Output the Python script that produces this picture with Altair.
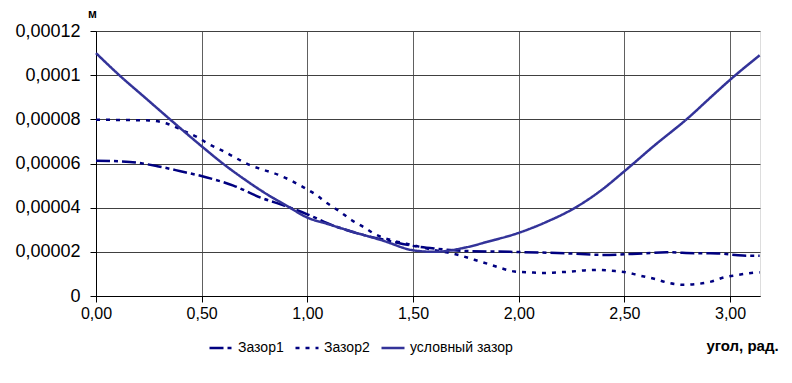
import altair as alt
import pandas as pd

# --- data ---
SERIES = ["Зазор1", "Зазор2", "условный зазор"]

x_z1 = [0.00, 0.16, 0.29, 0.40, 0.52, 0.65, 0.78, 0.89, 1.00, 1.12, 1.25, 1.37,
        1.50, 1.60, 1.75, 1.96, 2.23, 2.40, 2.59, 2.70, 2.83, 2.94, 3.06, 3.14]
y_z1 = [6.13e-5, 6.07e-5, 5.88e-5, 5.65e-5, 5.38e-5, 5.00e-5, 4.45e-5, 4.10e-5,
        3.70e-5, 3.20e-5, 2.80e-5, 2.53e-5, 2.27e-5, 2.15e-5, 2.04e-5, 2.00e-5,
        1.93e-5, 1.86e-5, 1.93e-5, 1.98e-5, 1.94e-5, 1.93e-5, 1.83e-5, 1.82e-5]

x_z2 = [0.00, 0.25, 0.34, 0.41, 0.48, 0.53, 0.60, 0.66, 0.72, 0.79, 0.86, 0.92,
        0.98, 1.04, 1.09, 1.15, 1.21, 1.27, 1.32, 1.41, 1.50, 1.58, 1.645, 1.715,
        1.79, 1.86, 1.92, 1.98, 2.05, 2.12, 2.18, 2.24, 2.31, 2.38, 2.44, 2.51,
        2.575, 2.645, 2.71, 2.78, 2.84, 2.91, 2.97, 3.035, 3.10, 3.14]
y_z2 = [7.98e-5, 7.95e-5, 7.79e-5, 7.50e-5, 7.19e-5, 6.90e-5, 6.57e-5, 6.26e-5,
        5.96e-5, 5.72e-5, 5.50e-5, 5.24e-5, 4.93e-5, 4.59e-5, 4.23e-5, 3.85e-5,
        3.43e-5, 3.10e-5, 2.80e-5, 2.50e-5, 2.30e-5, 2.12e-5, 2.00e-5, 1.86e-5,
        1.64e-5, 1.44e-5, 1.25e-5, 1.11e-5, 1.07e-5, 1.04e-5, 1.07e-5, 1.10e-5,
        1.16e-5, 1.18e-5, 1.14e-5, 1.07e-5, 0.92e-5, 0.77e-5, 0.59e-5, 0.51e-5,
        0.54e-5, 0.65e-5, 0.84e-5, 0.95e-5, 1.04e-5, 1.07e-5]

x_uz = [0.00, 0.11, 0.23, 0.35, 0.50, 0.60, 0.70, 0.81, 0.90, 1.00, 1.10, 1.20,
        1.36, 1.50, 1.60, 1.75, 1.85, 2.00, 2.13, 2.26, 2.385, 2.50, 2.64, 2.80,
        2.92, 3.00, 3.14]
y_uz = [11.0e-5, 10.0e-5, 9.0e-5, 8.0e-5, 6.78e-5, 6.0e-5, 5.3e-5, 4.6e-5,
        4.1e-5, 3.55e-5, 3.25e-5, 2.95e-5, 2.5e-5, 2.07e-5, 2.0e-5, 2.2e-5,
        2.45e-5, 2.86e-5, 3.35e-5, 3.96e-5, 4.75e-5, 5.65e-5, 6.8e-5, 8.05e-5,
        9.1e-5, 9.79e-5, 10.9e-5]

X_TICKS = [0.0, 0.5, 1.0, 1.5, 2.0, 2.5, 3.0]
X_LABELS = ["0,00", "0,50", "1,00", "1,50", "2,00", "2,50", "3,00"]
Y_TICKS = [0.0, 2e-5, 4e-5, 6e-5, 8e-5, 1e-4, 1.2e-4]
Y_LABELS = ["0", "0,00002", "0,00004", "0,00006", "0,00008", "0,0001", "0,00012"]

COLORS = ["#000080", "#000080", "#333399"]
DASHES = [[14, 4, 4, 4], [4, 6], [1, 0]]
WIDTHS = [2.5, 2.5, 2.0]

rows = []
for name, xs, ys in [(SERIES[0], x_z1, y_z1), (SERIES[1], x_z2, y_z2), (SERIES[2], x_uz, y_uz)]:
    for i, (a, b) in enumerate(zip(xs, ys)):
        rows.append({"series": name, "x": a, "y": b, "order": i})
df = pd.DataFrame(rows)


def label_expr(ticks, labels, tol):
    expr = "''"
    for t, l in reversed(list(zip(ticks, labels))):
        expr = f"abs(datum.value - {t!r}) < {tol} ? '{l}' : ({expr})"
    return expr


FONT = "Liberation Sans"

lines = alt.Chart(df).mark_line(interpolate="monotone").encode(
    x=alt.X("x:Q",
            scale=alt.Scale(domain=[0, 3.14159], nice=False, zero=False),
            axis=alt.Axis(values=X_TICKS, labelExpr=label_expr(X_TICKS, X_LABELS, 1e-6),
                          labelFlush=False, labelOverlap=False,
                          title="угол, рад.", titleAngle=0, titleX=646, titleY=49,
                          titleAlign="center", titleBaseline="middle",
                          titleFontWeight="bold", titleFontSize=15, titleFont=FONT,
                          labelFont=FONT, labelFontSize=16, labelColor="#000",
                          labelPadding=3, tickSize=6, tickColor="#000",
                          domainColor="#000", grid=True, gridColor="#606060")),
    y=alt.Y("y:Q",
            scale=alt.Scale(domain=[0, 1.2e-4], nice=False),
            axis=alt.Axis(values=Y_TICKS, labelExpr=label_expr(Y_TICKS, Y_LABELS, 1e-9),
                          labelFlush=False, labelOverlap=False,
                          title="м", titleAngle=0, titleX=-4, titleY=-14,
                          titleAlign="center", titleBaseline="alphabetic",
                          titleFontWeight="bold", titleFontSize=12, titleFont=FONT,
                          labelFont=FONT, labelFontSize=18, labelColor="#000",
                          labelPadding=10, tickSize=6, tickColor="#000",
                          domainColor="#000", grid=True, gridColor="#404040")),
    color=alt.Color("series:N", scale=alt.Scale(domain=SERIES, range=COLORS),
                    legend=alt.Legend(title=None, orient="none", direction="horizontal",
                                      legendX=112, legendY=304, symbolType="stroke",
                                      symbolSize=529, symbolStrokeWidth=2.5,
                                      labelFont=FONT, labelFontSize=14, labelColor="#000",
                                      labelOffset=4, columnPadding=6)),
    strokeDash=alt.StrokeDash("series:N", scale=alt.Scale(domain=SERIES, range=DASHES)),
    strokeWidth=alt.StrokeWidth("series:N", scale=alt.Scale(domain=SERIES, range=WIDTHS),
                                legend=None),
    order="order:Q",
)

chart = lines.properties(
    width=664, height=265,
    padding={"left": 88, "top": 23, "right": 24, "bottom": 70},
    autosize=alt.AutoSizeParams(type="none"),
).configure_view(stroke="#808080", strokeWidth=1).configure(background="white")

chart.save("out.html", embed_options={"renderer": "svg", "actions": False})
